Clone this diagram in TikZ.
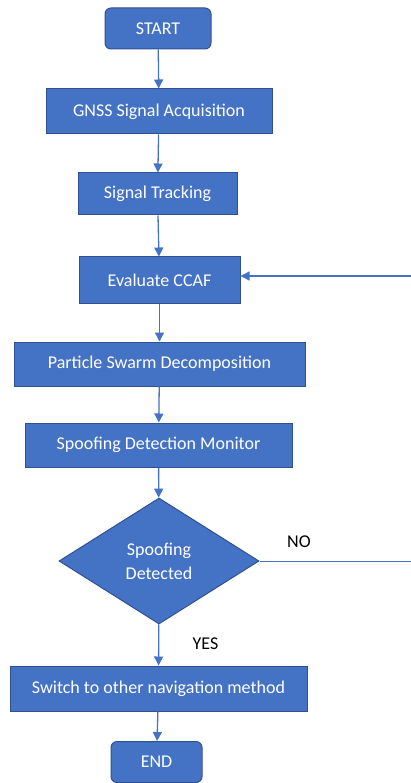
\documentclass[tikz,border=0pt]{standalone}
\usepackage{fontspec}
\setmainfont{Carlito}
\usetikzlibrary{shapes.geometric,arrows.meta}
\definecolor{boxfill}{HTML}{4472C4}
\definecolor{boxline}{HTML}{2F528F}
\begin{document}
\begin{tikzpicture}[x=1pt,y=-1pt,
  every node/.style={font=\fontsize{18}{24}\selectfont},
  procbox/.style={draw=boxline,fill=boxfill,line width=1pt,text=white,inner sep=0pt,align=center},
  termbox/.style={procbox,rounded corners=6pt},
  decbox/.style={procbox,diamond},
  flow/.style={draw=boxfill,line width=1.3pt,-{Triangle[width=9pt,length=9pt]}},
  lbl/.style={text=black,inner sep=0pt}]
\useasboundingbox (0,0) rectangle (411,783);
\node[termbox,minimum width=106pt,minimum height=41pt] (start) at (158,28.5) {START};
\node[procbox,minimum width=226pt,minimum height=45pt] (gnss) at (159,111.5) {GNSS Signal Acquisition};
\node[procbox,minimum width=159pt,minimum height=42pt] (track) at (157.5,194) {Signal Tracking};
\node[procbox,minimum width=161pt,minimum height=46pt] (ccaf) at (159.5,280) {Evaluate CCAF};
\node[procbox,minimum width=291pt,minimum height=44pt] (pso) at (159.5,364) {Particle Swarm Decomposition};
\node[procbox,minimum width=267pt,minimum height=44pt] (mon) at (158.5,445) {Spoofing Detection Monitor};
\node[decbox,minimum width=200pt,minimum height=126pt] (dec) at (159,561) {Spoofing\\Detected};
\node[procbox,minimum width=297pt,minimum height=45pt] (sw) at (158.5,688.5) {Switch to other navigation method};
\node[termbox,minimum width=91pt,minimum height=41pt] (stop) at (156.5,762) {END};
\node[lbl] (no) at (299,542) {NO};
\node[lbl] (yes) at (205.5,644) {YES};
\coordinate (noend) at (411,561);
\coordinate (fbstart) at (411,276);
\draw[flow] (start) -- (gnss);
\draw[flow] (gnss) -- (track);
\draw[flow] (track) -- (ccaf);
\draw[flow] (ccaf) -- (pso);
\draw[flow] (pso) -- (mon);
\draw[flow] (mon) -- (dec);
\draw[flow] (dec) -- (sw);
\draw[flow] (sw) -- (stop);
\draw[draw=boxfill,line width=1pt] (dec.east) -- (noend);
\draw[flow] (fbstart) -- (ccaf.east |- fbstart);
\end{tikzpicture}
\end{document}
